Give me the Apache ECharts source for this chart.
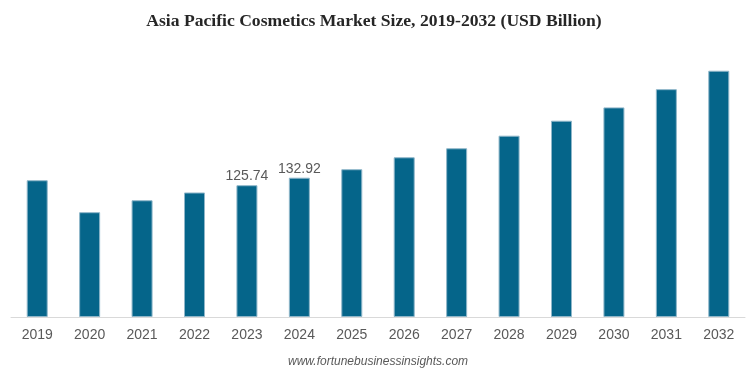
<!DOCTYPE html>
<html>
<head>
<meta charset="utf-8">
<script src="https://cdn.jsdelivr.net/npm/echarts@6/dist/echarts.min.js"></script>
<style>html,body{margin:0;padding:0;background:#fff}#c{width:748px;height:374px}</style>
</head>
<body>
<div id="c"></div>
<script>
const years = ['2019','2020','2021','2022','2023','2024','2025','2026','2027','2028','2029','2030','2031','2032'];
const marketSize = [130.5, 100.0, 111.4, 118.8, 125.74, 132.92, 141.0, 152.4, 161.0, 173.0, 187.3, 200.0, 217.4, 235.0];
const labeledYears = ['2023','2024'];

const chart = echarts.init(document.getElementById('c'), null, {renderer:'canvas'});
chart.setOption({
  animation: false,
  backgroundColor: '#ffffff',
  title: [{
    text: 'Asia Pacific Cosmetics Market Size, 2019-2032 (USD Billion)',
    left: 'center', top: 7,
    textStyle: {fontFamily: 'Liberation Serif', fontWeight: 'bold', fontSize: 17.6, color: '#262626'}
  }, {
    text: 'www.fortunebusinessinsights.com',
    left: 288, top: 356, padding: 0,
    textStyle: {fontFamily: 'Liberation Sans', fontStyle: 'italic', fontWeight: 'normal', fontSize: 12, color: '#595959'}
  }],
  grid: {left: 11, right: 3, top: 55, height: 262, containLabel: false},
  xAxis: {
    type: 'category', data: years,
    axisLine: {show: true, lineStyle: {color: '#d9d9d9', width: 1}},
    axisTick: {show: false},
    axisLabel: {color: '#595959', fontFamily: 'Liberation Sans', fontSize: 14, margin: 11}
  },
  yAxis: {
    type: 'value', min: 0, max: 250, show: false,
    splitLine: {show: false}
  },
  series: [{
    type: 'bar', data: marketSize.map((v, i) => ({
      value: v,
      label: {show: labeledYears.includes(years[i])}
    })),
    barWidth: 21,
    itemStyle: {color: '#05658a', borderColor: '#8fb6c9', borderWidth: 1},
    label: {position: 'top', distance: 2, color: '#595959', fontFamily: 'Liberation Sans', fontSize: 14}
  }]
});
</script>
</body>
</html>
